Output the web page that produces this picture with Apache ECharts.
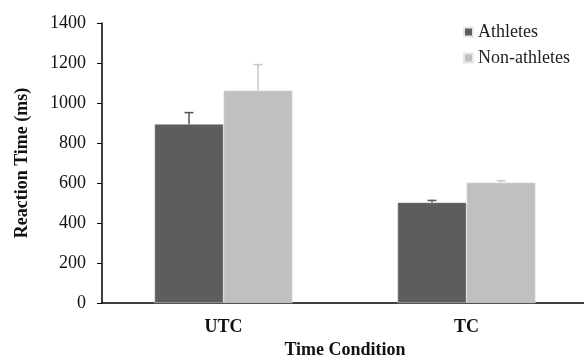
<!DOCTYPE html>
<html>
<head>
<meta charset="utf-8">
<script src="https://cdn.jsdelivr.net/npm/echarts@6/dist/echarts.min.js"></script>
<style>
  html, body { margin: 0; padding: 0; background: #fff; }
  #chart { width: 584px; height: 356px; }
</style>
</head>
<body>
<div id="chart"></div>
<script>
var categories = ['UTC', 'TC'];
var athletes = [895, 503];
var nonAthletes = [1062, 602];
var athletesErr = [57, 10];
var nonAthletesErr = [130, 10];
var yTicks = [0, 200, 400, 600, 800, 1000, 1200, 1400];

var BAR_W = 69;
var serif = '"Liberation Serif", "Times New Roman", serif';

function errorSeries(name, values, errs, offset, color) {
  var data = [];
  for (var i = 0; i < values.length; i++) {
    data.push([i, values[i] - errs[i], values[i] + errs[i]]);
  }
  return {
    name: name,
    type: 'custom',
    silent: true,
    z: 1,
    data: data,
    renderItem: function (params, api) {
      var lo = api.coord([api.value(0), api.value(1)]);
      var hi = api.coord([api.value(0), api.value(2)]);
      var x = lo[0] + offset;
      var cap = 4.5;
      return {
        type: 'group',
        children: [
          { type: 'line', shape: { x1: x, y1: lo[1], x2: x, y2: hi[1] }, style: { stroke: color, lineWidth: 1.5 } },
          { type: 'line', shape: { x1: x - cap, y1: hi[1], x2: x + cap, y2: hi[1] }, style: { stroke: color, lineWidth: 1.5 } },
          { type: 'line', shape: { x1: x - cap, y1: lo[1], x2: x + cap, y2: lo[1] }, style: { stroke: color, lineWidth: 1.5 } }
        ]
      };
    }
  };
}

var chart = echarts.init(document.getElementById('chart'));
chart.setOption({
  animation: false,
  textStyle: { fontFamily: serif },
  grid: { left: 102, top: 23, width: 486, bottom: 53, outerBoundsMode: 'none', containLabel: false },
  legend: {
    data: ['Athletes', 'Non-athletes'],
    orient: 'vertical',
    left: 458,
    top: 18,
    icon: 'rect',
    itemWidth: 9,
    itemHeight: 9,
    itemGap: 8,
    textStyle: { fontFamily: serif, fontSize: 18, color: '#222' }
  },
  xAxis: {
    type: 'category',
    data: categories,
    name: 'Time Condition',
    nameLocation: 'middle',
    nameGap: 36,
    nameTextStyle: { fontFamily: serif, fontSize: 18, fontWeight: 'bold', color: '#111' },
    axisLine: { lineStyle: { color: '#000', width: 1.5 } },
    axisTick: { show: false },
    axisLabel: { fontFamily: serif, fontSize: 18, fontWeight: 'bold', color: '#111', margin: 15 }
  },
  yAxis: {
    type: 'value',
    min: 0,
    max: 1400,
    interval: 200,
    name: 'Reaction Time (ms)',
    nameLocation: 'middle',
    nameGap: 71,
    nameTextStyle: { fontFamily: serif, fontSize: 18, fontWeight: 'bold', color: '#111' },
    axisLine: { show: true, lineStyle: { color: '#000', width: 1.5 } },
    axisTick: { show: true, length: 5, lineStyle: { color: '#000' } },
    splitLine: { show: false },
    axisLabel: {
      fontFamily: serif, fontSize: 18, color: '#111', margin: 16,
      formatter: function (v) { return yTicks.indexOf(v) >= 0 ? String(v) : ''; }
    }
  },
  series: [
    {
      name: 'Athletes',
      type: 'bar',
      data: athletes,
      barWidth: BAR_W,
      barGap: '0%',
      itemStyle: { color: '#5d5d5d', borderColor: '#e8e8e8', borderWidth: 0.5 },
      z: 2
    },
    {
      name: 'Non-athletes',
      type: 'bar',
      data: nonAthletes,
      barWidth: BAR_W,
      barGap: '0%',
      itemStyle: { color: '#c0c0c0', borderColor: '#e8e8e8', borderWidth: 0.5 },
      z: 2
    },
    errorSeries('athletesErr', athletes, athletesErr, -BAR_W / 2, '#555555'),
    errorSeries('nonAthletesErr', nonAthletes, nonAthletesErr, BAR_W / 2, '#c8c8c8')
  ]
});
</script>
</body>
</html>
